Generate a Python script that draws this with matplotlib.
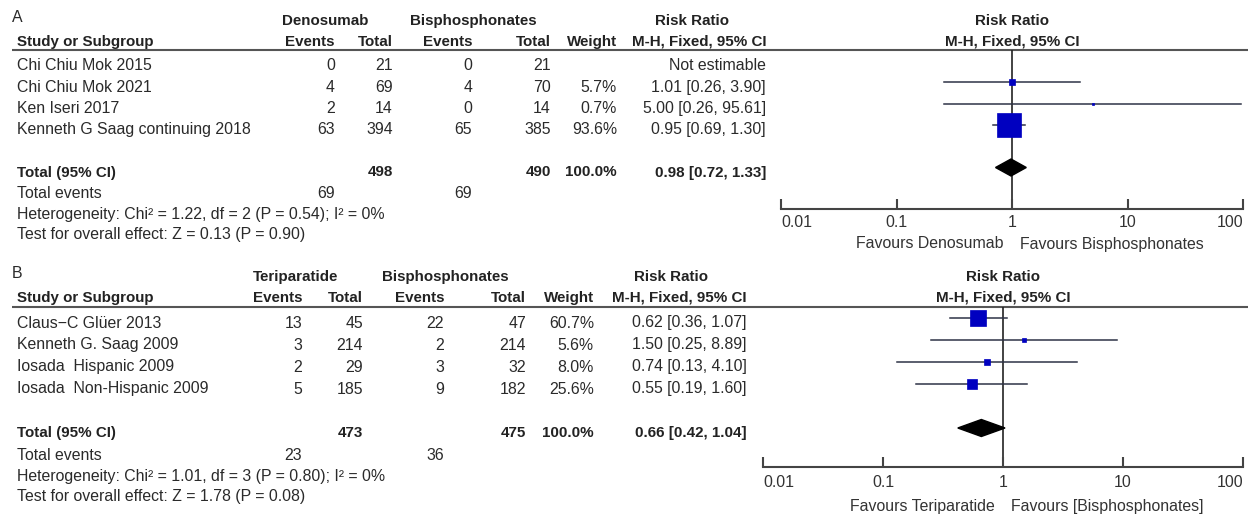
import numpy as np
import matplotlib
matplotlib.use("Agg")
import matplotlib.pyplot as plt
from matplotlib.ticker import NullLocator
from matplotlib.transforms import blended_transform_factory

plt.rcParams['font.family'] = ['Liberation Sans', 'DejaVu Sans']

# ---- panel A data ----
a_studies = ["Chi Chiu Mok 2015", "Chi Chiu Mok 2021", "Ken Iseri 2017",
             "Kenneth G Saag continuing 2018"]
a_ev1 = [0, 4, 2, 63]
a_n1 = [21, 69, 14, 394]
a_ev2 = [0, 4, 0, 65]
a_n2 = [21, 70, 14, 385]
a_weight = [None, 5.7, 0.7, 93.6]
a_rr = [None, 1.01, 5.00, 0.95]
a_lo = [None, 0.26, 0.26, 0.69]
a_hi = [None, 3.90, 95.61, 1.30]
a_total = [498, 490, 0.98, 0.72, 1.33]
a_events = [69, 69]
a_het = "Heterogeneity: Chi\u00b2 = 1.22, df = 2 (P = 0.54); I\u00b2 = 0%"
a_test = "Test for overall effect: Z = 0.13 (P = 0.90)"
a_groups = ["Denosumab", "Bisphosphonates"]
a_favours = ["Favours Denosumab", "Favours Bisphosphonates"]

# ---- panel B data ----
b_studies = ["Claus\u2212C Gl\u00fcer 2013", "Kenneth G. Saag 2009",
             "Iosada  Hispanic 2009", "Iosada  Non-Hispanic 2009"]
b_ev1 = [13, 3, 2, 5]
b_n1 = [45, 214, 29, 185]
b_ev2 = [22, 2, 3, 9]
b_n2 = [47, 214, 32, 182]
b_weight = [60.7, 5.6, 8.0, 25.6]
b_rr = [0.62, 1.50, 0.74, 0.55]
b_lo = [0.36, 0.25, 0.13, 0.19]
b_hi = [1.07, 8.89, 4.10, 1.60]
b_total = [473, 475, 0.66, 0.42, 1.04]
b_events = [23, 36]
b_het = "Heterogeneity: Chi\u00b2 = 1.01, df = 3 (P = 0.80); I\u00b2 = 0%"
b_test = "Test for overall effect: Z = 1.78 (P = 0.08)"
b_groups = ["Teriparatide", "Bisphosphonates"]
b_favours = ["Favours Teriparatide", "Favours [Bisphosphonates]"]

ticks = [0.01, 0.1, 1, 10, 100]
tick_labels = ["0.01", "0.1", "1", "10", "100"]

W, H = 1248, 515
FS = 11.4   # normal text
FB = 10.9   # bold text
TXT = '#2a2a2a'
fig = plt.figure(figsize=(W / 100, H / 100), dpi=100)
ax = fig.add_axes([0, 0, 1, 1])
ax.set_xlim(0, W)
ax.set_ylim(H, 0)
ax.axis('off')


def panel(letter, studies, ev1, n1, ev2, n2, weight, rr, lo, hi, total, events,
          het, test, groups, favours, lay, k):
    y0 = lay['top']
    dy = lay['dy']
    ax.text(12, y0 - 4, letter, fontsize=FS, color=TXT, va='center')
    # headers
    ax.text(lay['g1'], y0, groups[0], fontsize=FB, weight='bold', ha='center', va='center', color='#222')
    ax.text(lay['g2'], y0, groups[1], fontsize=FB, weight='bold', ha='center', va='center', color='#222')
    ax.text(lay['rrc'], y0, "Risk Ratio", fontsize=FB, weight='bold', ha='center', va='center', color='#222')
    y1 = y0 + 21
    ax.text(17, y1, "Study or Subgroup", fontsize=FB, weight='bold', va='center', color='#222')
    for key, lab in [('e1', 'Events'), ('t1', 'Total'), ('e2', 'Events'), ('t2', 'Total'),
                     ('w', 'Weight'), ('ci', 'M-H, Fixed, 95% CI')]:
        ax.text(lay[key], y1, lab, fontsize=FB, weight='bold', ha='right', va='center', color='#222')
    line_y = lay['line']
    ax.plot([12, W], [line_y, line_y], color='#555', lw=1.5, solid_capstyle='butt')

    rows = [line_y + 16 + dy * i for i in range(len(studies))]
    for i, s in enumerate(studies):
        y = rows[i]
        ax.text(17, y, s, fontsize=FS, va='center', color=TXT)
        ax.text(lay['e1'], y, str(ev1[i]), fontsize=FS, ha='right', va='center', color=TXT)
        ax.text(lay['t1'], y, str(n1[i]), fontsize=FS, ha='right', va='center', color=TXT)
        ax.text(lay['e2'], y, str(ev2[i]), fontsize=FS, ha='right', va='center', color=TXT)
        ax.text(lay['t2'], y, str(n2[i]), fontsize=FS, ha='right', va='center', color=TXT)
        if weight[i] is None:
            ax.text(lay['ci'], y, "Not estimable", fontsize=FS, ha='right', va='center', color=TXT)
        else:
            ax.text(lay['w'], y, f"{weight[i]:.1f}%", fontsize=FS, ha='right', va='center', color=TXT)
            ax.text(lay['ci'], y, f"{rr[i]:.2f} [{lo[i]:.2f}, {hi[i]:.2f}]",
                    fontsize=FS, ha='right', va='center', color=TXT)
    ty = rows[-1] + 2 * dy
    ax.text(17, ty, "Total (95% CI)", fontsize=FB, weight='bold', va='center', color='#222')
    ax.text(lay['t1'], ty, str(total[0]), fontsize=FB, weight='bold', ha='right', va='center', color='#222')
    ax.text(lay['t2'], ty, str(total[1]), fontsize=FB, weight='bold', ha='right', va='center', color='#222')
    ax.text(lay['w'], ty, "100.0%", fontsize=FB, weight='bold', ha='right', va='center', color='#222')
    ax.text(lay['ci'], ty, f"{total[2]:.2f} [{total[3]:.2f}, {total[4]:.2f}]",
            fontsize=FB, weight='bold', ha='right', va='center', color='#222')
    ey = ty + dy
    ax.text(17, ey, "Total events", fontsize=FS, va='center', color=TXT)
    ax.text(lay['e1'], ey, str(events[0]), fontsize=FS, ha='right', va='center', color=TXT)
    ax.text(lay['e2'], ey, str(events[1]), fontsize=FS, ha='right', va='center', color=TXT)
    ax.text(17, ey + dy - 1, het, fontsize=FS, va='center', color=TXT)
    ax.text(17, ey + 2 * dy - 2, test, fontsize=FS, va='center', color=TXT)

    # forest plot
    x0, x1, axis_y = lay['fx0'], lay['fx1'], lay['axis_y']
    fax = fig.add_axes([x0 / W, 1 - axis_y / H, (x1 - x0) / W, (axis_y - line_y) / H])
    fax.set_xscale('log')
    fax.set_xlim(0.01, 100)
    fax.set_ylim(axis_y, line_y)
    fax.patch.set_visible(False)
    for sp in ['top', 'left', 'right']:
        fax.spines[sp].set_visible(False)
    fax.spines['bottom'].set_color('#444')
    fax.spines['bottom'].set_linewidth(1.5)
    fax.set_yticks([])
    fax.set_xticks(ticks)
    fax.set_xticklabels(tick_labels)
    fax.xaxis.set_minor_locator(NullLocator())
    fax.tick_params(axis='x', direction='in', length=7, width=1.5, color='#444',
                    labelsize=FS, labelcolor='#333', pad=lay['pad'])
    labs = fax.get_xticklabels()
    labs[0].set_ha('left')
    labs[-1].set_ha('right')
    fax.axvline(1, color='#222', lw=1.2, zorder=1)
    for i in range(len(studies)):
        if rr[i] is None:
            continue
        y = rows[i] - 5
        fax.plot([lo[i], hi[i]], [y, y], color='#2e3346', lw=1.1, zorder=2)
        side = k * np.sqrt(weight[i])
        fax.plot([rr[i]], [y], marker='s', ms=side * 0.72, color='#0000c0',
                 mec='#0000c0', mew=0.5, zorder=3)
    dyy = ty - 5
    fax.fill([total[3], total[2], total[4], total[2]],
             [dyy, dyy - 8.5, dyy, dyy + 8.5], color='black', zorder=3)

    tr = blended_transform_factory(fax.transData, ax.transData)
    ax.text(1, y0, "Risk Ratio", fontsize=FB, weight='bold', ha='center', va='center',
            color='#222', transform=tr)
    ax.text(1, y1, "M-H, Fixed, 95% CI", fontsize=FB, weight='bold', ha='center',
            va='center', color='#222', transform=tr)
    x_one = fax.transData.transform((1, 0))[0]
    px_one = ax.transData.inverted().transform((x_one, 0))[0]
    fy = axis_y + lay['fav']
    ax.text(px_one - 8, fy, favours[0], fontsize=FS, ha='right', va='center', color='#333')
    ax.text(px_one + 8, fy, favours[1], fontsize=FS, ha='left', va='center', color='#333')


lay_a = dict(top=21, line=50, dy=21.3, g1=325, g2=473, rrc=692, e1=335, t1=393, e2=472,
             t2=551, w=617, ci=766, fx0=781, fx1=1243, axis_y=209, pad=4, fav=35)
lay_b = dict(top=277, line=307, dy=22, g1=296, g2=445, rrc=671, e1=302, t1=363, e2=444,
             t2=526, w=594, ci=747, fx0=763, fx1=1243, axis_y=467, pad=6, fav=40)

panel("A", a_studies, a_ev1, a_n1, a_ev2, a_n2, a_weight, a_rr, a_lo, a_hi,
      a_total, a_events, a_het, a_test, a_groups, a_favours, lay_a, 2.4)
panel("B", b_studies, b_ev1, b_n1, b_ev2, b_n2, b_weight, b_rr, b_lo, b_hi,
      b_total, b_events, b_het, b_test, b_groups, b_favours, lay_b, 1.95)

fig.savefig("out.png", dpi=100, facecolor='white')
